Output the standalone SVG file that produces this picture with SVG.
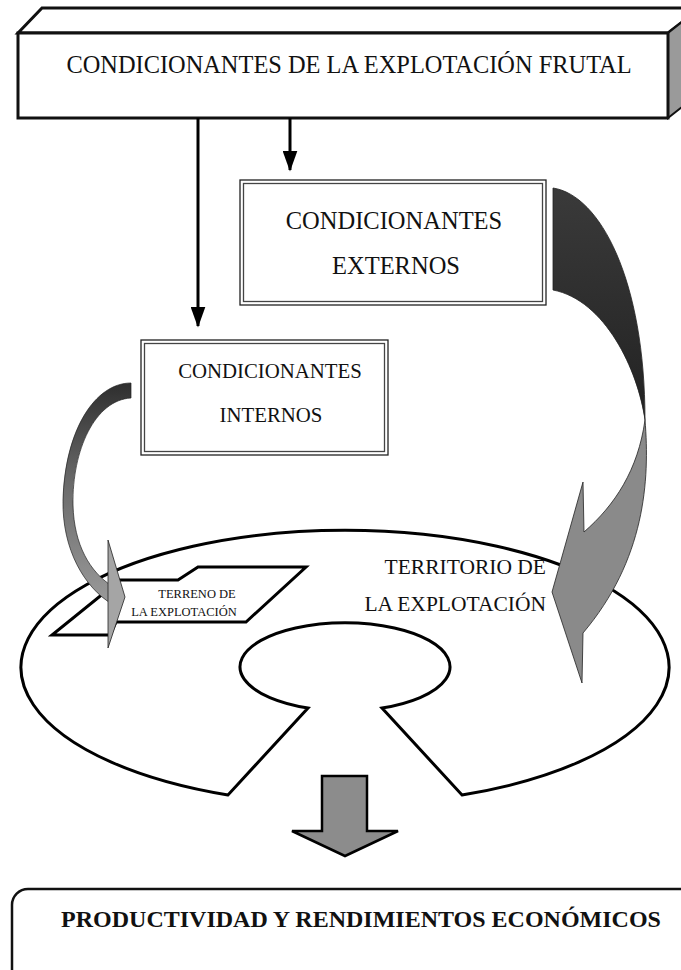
<svg xmlns="http://www.w3.org/2000/svg" width="681" height="970" viewBox="0 0 681 970">
<defs>
<style>
.t{font-family:"Liberation Serif","Times New Roman",serif;fill:#111;text-anchor:middle}
.ln{fill:none;stroke:#000;stroke-width:3}
.box{fill:#fff;stroke:#222;stroke-width:1.3}
.inner{fill:none;stroke:#444;stroke-width:1.3}
</style>
<linearGradient id="gDark" x1="0" y1="0" x2="0" y2="1">
<stop offset="0" stop-color="#3a3a3a"/><stop offset="1" stop-color="#222"/>
</linearGradient>
<linearGradient id="gLeft" x1="0" y1="0" x2="0" y2="1">
<stop offset="0" stop-color="#2e2e2e"/><stop offset="0.45" stop-color="#6a6a6a"/><stop offset="1" stop-color="#9a9a9a"/>
</linearGradient>
<marker id="ah" viewBox="0 0 14 10" refX="13" refY="5" markerWidth="7" markerHeight="5" orient="auto" markerUnits="strokeWidth">
<path d="M0,0 L14,5 L0,10 Z" fill="#000"/>
</marker>
</defs>
<rect width="681" height="970" fill="#fff"/>

<g id="top-box">
<polygon points="18,33 42,8 700,8 668,33" fill="#fff" stroke="#111" stroke-width="3"/>
<polygon points="668,33 700,8 700,93 668,118" fill="#9a9a9a" stroke="#111" stroke-width="2"/>
<rect x="18" y="33" width="650" height="85" fill="#fff" stroke="#111" stroke-width="3"/>
<text class="t" x="349" y="73" font-size="24.4">CONDICIONANTES DE LA EXPLOTACIÓN FRUTAL</text>
</g>

<g id="externos">
<rect class="box" x="240" y="180" width="306" height="125"/>
<rect class="inner" x="243.5" y="183.5" width="299" height="118"/>
<text class="t" x="394" y="229" font-size="24.5">CONDICIONANTES</text>
<text class="t" x="396" y="274" font-size="24.5">EXTERNOS</text>
</g>

<g id="internos">
<rect class="box" x="141" y="340" width="247" height="115"/>
<rect class="inner" x="144.5" y="343.5" width="240" height="108"/>
<text class="t" x="270" y="378" font-size="20.8">CONDICIONANTES</text>
<text class="t" x="271" y="422" font-size="20.8">INTERNOS</text>
</g>

<g id="territorio">
<path d="M228,795 A324,137 0 1 1 462,795 L382,708 A105,44 0 1 0 308,708 Z" fill="#fff" stroke="#000" stroke-width="3" stroke-linejoin="miter"/>
<text class="t" x="546" y="574" font-size="21.5" style="text-anchor:end">TERRITORIO DE</text>
<text class="t" x="546" y="611" font-size="21.5" style="text-anchor:end">LA EXPLOTACIÓN</text>
</g>

<g id="terreno">
<path d="M52,635 L110,635 L116,622 L246,622 L306,567 L198,567 L178,580 L120,580 Z" fill="#fff" stroke="#000" stroke-width="3" stroke-linejoin="miter"/>
<text class="t" x="197" y="598" font-size="12.5">TERRENO DE</text>
<text class="t" x="184" y="616" font-size="12.5">LA EXPLOTACIÓN</text>
</g>

<g id="resultado">
<rect x="12" y="889" width="690" height="100" rx="16" ry="16" fill="#fff" stroke="#111" stroke-width="2.5"/>
<text class="t" x="361" y="927" font-size="24" font-weight="bold">PRODUCTIVIDAD Y RENDIMIENTOS ECONÓMICOS</text>
</g>

<g id="connectors">
<line class="ln" x1="198" y1="118" x2="198" y2="326" marker-end="url(#ah)"/>
<line class="ln" x1="290" y1="118" x2="290" y2="170" marker-end="url(#ah)"/>
<path d="M553,188 C600,195 645,280 645,420 C638,370 605,300 553,290 Z" fill="url(#gDark)" stroke="#222" stroke-width="0.8"/>
<path d="M645,420 C650,480 645,560 583,633 L582,683 L552,592 L583,482 L584,532 C615,505 638,470 645,420 Z" fill="#8a8a8a" stroke="#222" stroke-width="0.8"/>
<path d="M131,383 C95,383 65,430 63,500 C62,550 85,588 112,604 L112,586 C90,572 74,545 73,505 C72,450 95,400 131,398 Z" fill="url(#gLeft)" stroke="#222" stroke-width="0.7"/>
<path d="M108,540 L125,597 L108,648 Z" fill="#a5a5a5" stroke="#222" stroke-width="0.8"/>
<path d="M322,776 L367,776 L367,831 L398,831 L345,856 L292,831 L322,831 Z" fill="#8c8c8c" stroke="#000" stroke-width="2.5" stroke-linejoin="miter"/>
</g>
</svg>
